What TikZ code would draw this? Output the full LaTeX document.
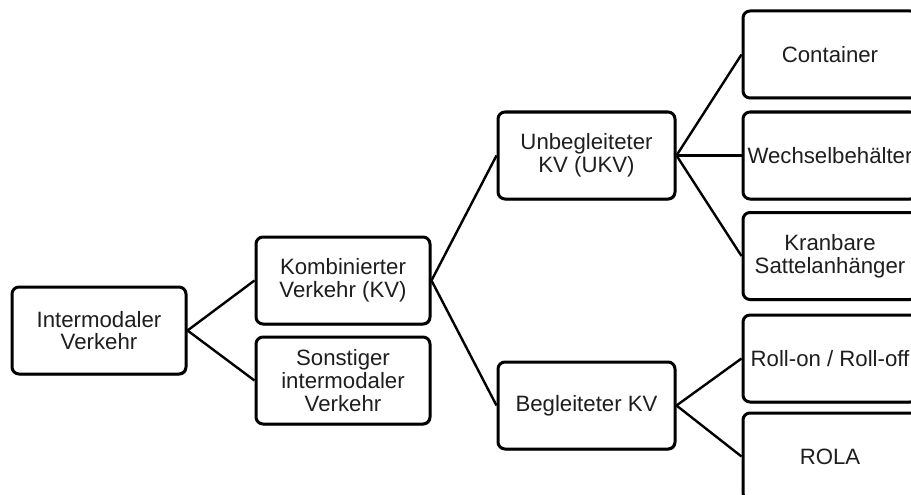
\documentclass[tikz,border=0pt]{standalone}
\usepackage{fontspec}
\setmainfont{Liberation Sans}
\usetikzlibrary{shadows}
\definecolor{txt}{HTML}{1E1E1E}
\tikzset{
  box/.style={draw=black, line width=3pt, rounded corners=7pt, fill=white,
    minimum width=174pt, minimum height=87pt, inner sep=0pt, align=center,
    text=txt, font=\fontsize{22.2}{22.8}\selectfont,
    drop shadow={shadow xshift=1.2pt, shadow yshift=-1.5pt, opacity=0.35, fill=black}},
  wbox/.style={box, minimum width=177pt},
  link/.style={draw=black, line width=2.4pt}
}
\begin{document}
\begin{tikzpicture}[x=1pt, y=-1pt]
\useasboundingbox (0,0) rectangle (911,495);
\node[box]  (iv)   at (99,330.5)  {Intermodaler\\Verkehr};
\node[box]  (kv)   at (343,280.5) {Kombinierter\\Verkehr (KV)};
\node[box]  (sv)   at (343,380.5) {Sonstiger\\intermodaler\\Verkehr};
\node[wbox] (ukv)  at (586.5,155.5) {Unbegleiteter\\KV (UKV)};
\node[wbox] (bkv)  at (586.5,405.5) {Begleiteter KV};
\node[box]  (cont) at (830,54.5)  {Container};
\node[box]  (wech) at (830,155.5) {Wechselbehälter};
\node[box]  (kran) at (830,256)   {Kranbare\\Sattelanhänger};
\node[box]  (roll) at (830,358.5) {Roll-on / Roll-off};
\node[box]  (rola) at (830,456.5) {ROLA};
\draw[link] (iv.east) -- (kv.west);
\draw[link] (iv.east) -- (sv.west);
\draw[link] (kv.east) -- (ukv.west);
\draw[link] (kv.east) -- (bkv.west);
\draw[link] (ukv.east) -- (cont.west);
\draw[link] (ukv.east) -- (wech.west);
\draw[link] (ukv.east) -- (kran.west);
\draw[link] (bkv.east) -- (roll.west);
\draw[link] (bkv.east) -- (rola.west);
\end{tikzpicture}
\end{document}
